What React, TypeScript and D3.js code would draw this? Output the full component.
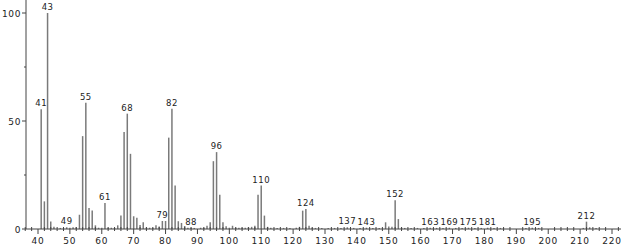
import React from "react";
import * as d3 from "d3";

const masses = [
  41, 42, 43, 44, 45, 47, 49, 50, 51, 52, 53, 54, 55, 56, 57, 58, 59, 60, 61, 62, 63, 64, 65, 66, 67, 68, 69, 70,
  71, 72, 73, 74, 75, 76, 77, 78, 79, 80, 81, 82, 83, 84, 85, 86, 87, 88, 89, 91, 92, 93, 94, 95, 96, 97, 98, 99,
  100, 101, 102, 103, 104, 105, 106, 107, 108, 109, 110, 111, 112, 113, 115, 117, 119, 121, 122, 123, 124, 125,
  126, 127, 129, 131, 133, 135, 137, 139, 141, 143, 145, 147, 149, 150, 151, 152, 153, 154, 155, 157, 159, 161,
  163, 165, 167, 169, 171, 173, 175, 177, 179, 181, 183, 185, 193, 195, 197, 211, 212, 213, 215,
];
const intensities = [
  55.4, 12.8, 100, 3.5, 1, 0.5, 0.8, 0.6, 0.8, 0.8, 6.6, 43, 58.5, 9.7, 8.6, 1.7, 0.6, 0.6, 12, 0.6, 0.6, 0.5, 1.7,
  6.2, 44.9, 53.4, 34.8, 5.9, 5.2, 1.9, 3.1, 0.6, 0.6, 0.6, 1.7, 1.2, 3.7, 3.7, 42.3, 55.7, 20.1, 3.6, 2.8, 1.4,
  0.6, 0.6, 0.5, 0.6, 0.6, 1.5, 3.1, 31.4, 35.6, 15.9, 3.1, 1.3, 0.6, 1.5, 0.6, 0.6, 0.6, 0.6, 0.8, 1.0, 1.5,
  15.8, 20.1, 6.2, 1.0, 0.6, 0.5, 0.5, 0.5, 0.6, 1.0, 8.5, 9.3, 1.5, 0.6, 0.5, 0.5, 0.5, 0.5, 0.5, 0.8, 0.5,
  0.5, 0.6, 0.5, 0.5, 3.1, 1.2, 1.0, 13.3, 4.6, 0.6, 0.5, 0.5, 0.5, 0.5, 0.6, 0.5, 0.5, 0.6, 0.5, 0.5, 0.6, 0.5,
  0.5, 0.6, 0.5, 0.5, 0.5, 0.6, 0.5, 0.5, 3.4, 0.8, 0.5,
];
const labeledMasses = [41, 43, 49, 55, 61, 68, 79, 82, 88, 96, 110, 124, 137, 143, 152, 163, 169, 175, 181, 195, 212];
const xMajorTicks = [40, 50, 60, 70, 80, 90, 100, 110, 120, 130, 140, 150, 160, 170, 180, 190, 200, 210, 220];
const yMajorTicks = [0, 50, 100];
const yMinorTicks = [25, 75];

export default function App() {
  const W = 625;
  const H = 246;
  const x = d3.scaleLinear().domain([40, 220]).range([38, 612]);
  const y = d3.scaleLinear().domain([0, 100]).range([229, 13]);
  const axisLeft = 26;
  const axisRight = 621;
  const axisY = y(0);
  const minorX = d3.range(36, 223, 2).filter((m) => m % 10 !== 0);
  const valueOf = (m: number) => {
    const i = masses.indexOf(m);
    return i >= 0 ? intensities[i] : 0;
  };
  const font = "'DejaVu Sans', sans-serif";
  const axisColor = "#444";
  const barColor = "#7a7a7a";
  return (
    <svg width={W} height={H} style={{ position: "absolute", left: 0, top: 0, background: "#fff" }}>
      {masses.map((m, i) => (
        <line
          key={"b" + m}
          x1={x(m)}
          x2={x(m)}
          y1={axisY}
          y2={y(intensities[i])}
          stroke={barColor}
          strokeWidth={1.5}
        />
      ))}
      <line x1={axisLeft} x2={axisLeft} y1={0} y2={axisY} stroke={axisColor} strokeWidth={1} />
      <line x1={axisLeft} x2={axisRight} y1={axisY} y2={axisY} stroke={axisColor} strokeWidth={1} />
      {yMajorTicks.map((t) => (
        <g key={"yt" + t}>
          <line x1={axisLeft - 4} x2={axisLeft} y1={y(t)} y2={y(t)} stroke={axisColor} />
          <text
            x={axisLeft - 5}
            y={y(t) + 3.5}
            textAnchor="end"
            fontFamily={font}
            fontSize={9}
            letterSpacing={0.6}
            fill="#222"
          >
            {t}
          </text>
        </g>
      ))}
      {yMinorTicks.map((t) => (
        <line key={"ym" + t} x1={axisLeft - 2} x2={axisLeft} y1={y(t)} y2={y(t)} stroke={axisColor} />
      ))}
      {xMajorTicks.map((t) => (
        <g key={"xt" + t}>
          <line x1={x(t)} x2={x(t)} y1={axisY} y2={axisY + 5} stroke={axisColor} />
          <text
            x={x(t)}
            y={axisY + 15}
            textAnchor="middle"
            fontFamily={font}
            fontSize={9}
            letterSpacing={0.8}
            fill="#222"
          >
            {t}
          </text>
        </g>
      ))}
      {minorX.map((m) => (
        <line key={"xm" + m} x1={x(m)} x2={x(m)} y1={axisY - 2} y2={axisY + 2} stroke={axisColor} />
      ))}
      {labeledMasses.map((m) => (
        <text
          key={"l" + m}
          x={x(m)}
          y={y(valueOf(m)) - 3}
          textAnchor="middle"
          fontFamily={font}
          fontSize={8.5}
          letterSpacing={0.5}
          fill="#222"
        >
          {m}
        </text>
      ))}
    </svg>
  );
}
